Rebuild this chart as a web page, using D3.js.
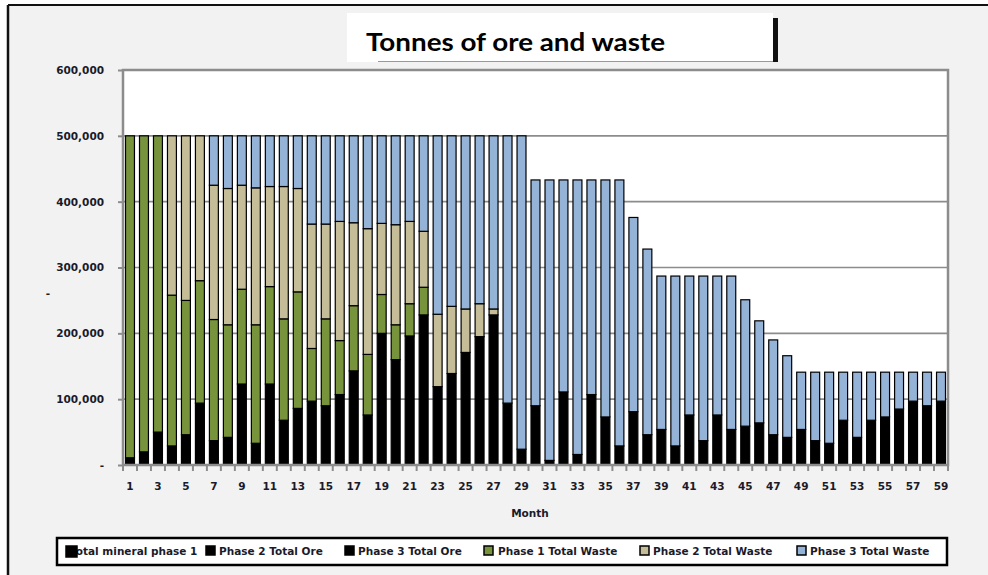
<!DOCTYPE html>
<html><head><meta charset="utf-8">
<script src="https://cdn.jsdelivr.net/npm/d3@7"></script>
<style>html,body{margin:0;padding:0;background:#fff;}svg{display:block;}</style>
</head><body>
<svg id="chart" width="988" height="575"></svg>
<script>
// ---- data (thousands of tonnes) ----
const months = d3.range(1, 60);
const p1OreKt = [11,20,50,29,46,94,37,42,123,33,123,68,86,97,90,107,143,76,200,160,196,228].concat(Array(37).fill(0));
const p2OreKt = Array(22).fill(0).concat([119,139,171,195,228]).concat(Array(32).fill(0));
const p3OreKt = Array(27).fill(0).concat([94,24,90,7,111,16,107,73,29,81,46,54,29,76,37,76,54,59,64,46,42,54,37,33,68,42,68,73,85,97,90,97]);
const p1WasteKt = [489,480,450,229,204,186,184,171,144,180,148,154,177,80,132,82,99,92,59,53,49,42].concat(Array(37).fill(0));
const p2WasteKt = [0,0,0,242,250,220,204,207,158,208,152,201,157,189,144,181,126,191,108,152,125,85,110,102,66,50,9].concat(Array(32).fill(0));
const p3WasteKt = [0,0,0,0,0,0,75,80,75,79,77,77,80,134,134,130,132,141,133,135,130,145,271,259,263,255,263,406,476,343,426,322,417,326,360,404,295,282,233,258,211,250,211,233,192,155,144,124,87,104,108,73,99,73,68,56,44,51,44];
const seriesNames = ["Total mineral phase 1","Phase 2 Total Ore","Phase 3 Total Ore","Phase 1 Total Waste","Phase 2 Total Waste","Phase 3 Total Waste"];
const seriesColors = ["#000000","#000000","#000000","#77933C","#C4BD97","#95B3D7"];
const yTicks = [0,100000,200000,300000,400000,500000,600000];
const yTickLabels = ["-","100,000","200,000","300,000","400,000","500,000","600,000"];
const xTickLabels = months.filter(m => m % 2 === 1).map(String);
const titleText = "Tonnes of ore and waste";
const xTitle = "Month";
const yTitle = "-";

// ---- build table ----
const keys = ["s0","s1","s2","s3","s4","s5"];
const srcs = [p1OreKt,p2OreKt,p3OreKt,p1WasteKt,p2WasteKt,p3WasteKt];
const table = months.map((m,i) => {
  const row = {month: m};
  keys.forEach((k,j) => row[k] = srcs[j][i] * 1000);
  return row;
});

const svg = d3.select("#chart");
const W = 988, H = 575;
const plot = {left: 123, right: 948, top: 70, bottom: 465};

// background + frame
svg.append("rect").attr("x",8).attr("y",5).attr("width",W-8).attr("height",H-5).attr("fill","#f2f2f2");
svg.append("line").attr("x1",8).attr("x2",W).attr("y1",5).attr("y2",5).attr("stroke","#111").attr("stroke-width",2);
svg.append("line").attr("x1",8).attr("x2",8).attr("y1",5).attr("y2",H).attr("stroke","#111").attr("stroke-width",2.5);

// title box
svg.append("rect").attr("x",347).attr("y",13).attr("width",426).attr("height",49).attr("fill","#fff");
svg.append("rect").attr("x",773).attr("y",18).attr("width",5).attr("height",44).attr("fill","#111");
svg.append("line").attr("x1",378).attr("x2",773).attr("y1",61.5).attr("y2",61.5).attr("stroke","#999").attr("stroke-width",1);
svg.append("text").attr("x",366).attr("y",51).text(titleText)
  .attr("font-family","Lato, 'Open Sans', sans-serif").attr("font-weight","bold").attr("font-size",24)
  .attr("textLength",299).attr("lengthAdjust","spacingAndGlyphs").attr("fill","#000");

// scales
const x = d3.scaleBand().domain(months).range([plot.left, plot.right]).paddingInner(0.36).paddingOuter(0.18);
const y = d3.scaleLinear().domain([0,600000]).range([plot.bottom, plot.top]);

// plot background
svg.append("rect").attr("x",plot.left).attr("y",plot.top).attr("width",plot.right-plot.left).attr("height",plot.bottom-plot.top).attr("fill","#fff");

// gridlines
svg.append("g").selectAll("line").data(yTicks.slice(1)).join("line")
  .attr("x1",plot.left).attr("x2",plot.right).attr("y1",d=>y(d)).attr("y2",d=>y(d))
  .attr("stroke","#8c8c8c").attr("stroke-width",1.6);

// bars
const stack = d3.stack().keys(keys)(table);
const gBars = svg.append("g");
stack.forEach((layer, j) => {
  gBars.append("g").selectAll("rect").data(layer.filter(d => d[1] - d[0] > 0)).join("rect")
    .attr("x", d => x(d.data.month))
    .attr("width", x.bandwidth())
    .attr("y", d => y(d[1]))
    .attr("height", d => y(d[0]) - y(d[1]))
    .attr("fill", seriesColors[j])
    .attr("stroke", "#000").attr("stroke-width", 1.2);
});

// plot frame
svg.append("rect").attr("x",plot.left).attr("y",plot.top).attr("width",plot.right-plot.left).attr("height",plot.bottom-plot.top)
  .attr("fill","none").attr("stroke","#8c8c8c").attr("stroke-width",2.5);

// y axis
const yAxis = d3.axisLeft(y).tickValues(yTicks).tickFormat((d,i) => yTickLabels[i]).tickSize(5).tickPadding(14);
const gy = svg.append("g").attr("transform",`translate(${plot.left},0)`).call(yAxis);
gy.select(".domain").remove();
gy.selectAll(".tick line").attr("stroke","#8c8c8c").attr("stroke-width",2);
gy.selectAll(".tick text").attr("font-family","'DejaVu Sans', sans-serif").attr("font-weight","bold").attr("font-size",10.5).attr("fill","#1a1a2a");

// x axis: tick marks at category boundaries, labels at odd months
const bounds = months.map(m => x(m) - x.step()*x.paddingInner()/2).concat([plot.right]);
svg.append("g").selectAll("line").data(bounds).join("line")
  .attr("x1",d=>d).attr("x2",d=>d).attr("y1",plot.bottom).attr("y2",plot.bottom+6)
  .attr("stroke","#8c8c8c").attr("stroke-width",2);
const xAxis = d3.axisBottom(x).tickValues(months.filter(m => m % 2 === 1)).tickFormat((d) => xTickLabels[(d-1)/2]).tickSize(0).tickPadding(18);
const gx = svg.append("g").attr("transform",`translate(0,${plot.bottom})`).call(xAxis);
gx.select(".domain").remove();
gx.selectAll(".tick text").attr("font-family","'DejaVu Sans', sans-serif").attr("font-weight","bold").attr("font-size",10.5).attr("fill","#1a1a2a");

// axis titles
svg.append("text").attr("x",530).attr("y",517).attr("text-anchor","middle").text(xTitle)
  .attr("font-family","'DejaVu Sans', sans-serif").attr("font-weight","bold").attr("font-size",10.5).attr("fill","#1a1a2a");
svg.append("text").attr("x",48).attr("y",297).attr("text-anchor","middle").text(yTitle)
  .attr("font-family","'DejaVu Sans', sans-serif").attr("font-weight","bold").attr("font-size",10.5).attr("fill","#1a1a2a");

// legend
svg.append("rect").attr("x",57).attr("y",538).attr("width",890).attr("height",27).attr("fill","#fff").attr("stroke","#000").attr("stroke-width",2.5);
const legendX = [66,206,345,484,640,797];
const textX = [70,219,358,498,653,810];
const lg = svg.append("g");
seriesNames.forEach((name,i) => {
  lg.append("text").attr("x",textX[i]).attr("y",555).text(name)
    .attr("font-family","'DejaVu Sans', sans-serif").attr("font-weight","bold").attr("font-size",10.5).attr("fill","#1a1a2a");
  lg.append("rect").attr("x",legendX[i]).attr("y",546).attr("width",i===0?11:9).attr("height",i===0?11:9)
    .attr("fill",seriesColors[i]).attr("stroke","#000").attr("stroke-width",1.5);
});
</script>
</body></html>
